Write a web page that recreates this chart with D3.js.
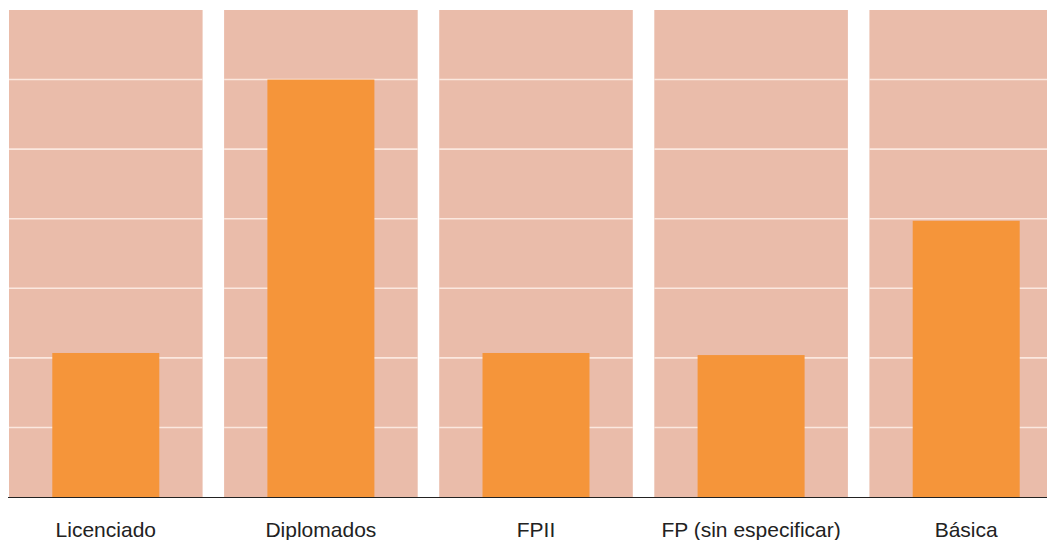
<!DOCTYPE html>
<html>
<head>
<meta charset="utf-8">
<script src="https://cdn.jsdelivr.net/npm/d3@7"></script>
<style>
  html, body { margin: 0; padding: 0; background: #fff; }
  svg { display: block; }
  .cat-label { font-family: "Liberation Sans", Arial, Helvetica, sans-serif; font-size: 21px; fill: #222; }
</style>
</head>
<body>
<div id="chart"></div>
<script>
// Categories and values (arbitrary units, gridline = 1)
const categories = ['Licenciado', 'Diplomados', 'FPII', 'FP (sin especificar)', 'Básica'];
const values = [2.07, 6.0, 2.07, 2.04, 3.97];
const gridTicks = [1, 2, 3, 4, 5, 6];

const W = 1047, H = 540;
const svg = d3.select('#chart').append('svg')
    .attr('width', W)
    .attr('height', H);

// Scales
const xPanel = d3.scaleBand()
    .domain(categories)
    .range([9, 1063])
    .paddingInner(0.1)
    .paddingOuter(0);

const barWidth = 107;

const yScale = d3.scaleLinear()
    .domain([0, 7])
    .range([497, 10]);

// Background panels
svg.selectAll('.panel')
    .data(categories)
    .enter()
    .append('rect')
    .attr('class', 'panel')
    .attr('x', d => xPanel(d))
    .attr('y', yScale(7))
    .attr('width', xPanel.bandwidth())
    .attr('height', yScale(0) - yScale(7))
    .attr('fill', '#eabcaa');

// Grid lines inside each panel
categories.forEach(c => {
    svg.selectAll(null)
        .data(gridTicks)
        .enter()
        .append('line')
        .attr('x1', xPanel(c))
        .attr('x2', xPanel(c) + xPanel.bandwidth())
        .attr('y1', d => yScale(d))
        .attr('y2', d => yScale(d))
        .attr('stroke', '#fbe8df')
        .attr('stroke-width', 1.6);
});

// Bars
svg.selectAll('.bar')
    .data(categories.map((c, i) => ({ cat: c, value: values[i] })))
    .enter()
    .append('rect')
    .attr('class', 'bar')
    .attr('x', d => xPanel(d.cat) + (xPanel.bandwidth() - barWidth) / 2)
    .attr('y', d => yScale(d.value))
    .attr('width', barWidth)
    .attr('height', d => yScale(0) - yScale(d.value))
    .attr('fill', '#f5953a');

// Baseline
svg.append('line')
    .attr('x1', 8)
    .attr('x2', W)
    .attr('y1', yScale(0) + 0.5)
    .attr('y2', yScale(0) + 0.5)
    .attr('stroke', '#222')
    .attr('stroke-width', 1.2);

// Category labels
svg.selectAll('.cat-label')
    .data(categories)
    .enter()
    .append('text')
    .attr('class', 'cat-label')
    .attr('x', d => xPanel(d) + xPanel.bandwidth() / 2)
    .attr('y', 537)
    .attr('text-anchor', 'middle')
    .text(d => d);
</script>
</body>
</html>
